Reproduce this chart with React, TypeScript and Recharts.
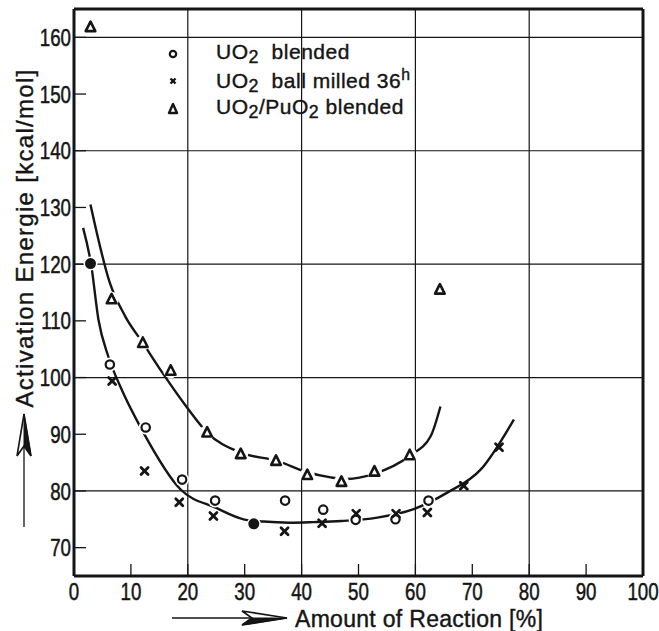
import {
  ComposedChart,
  Scatter,
  Line,
  XAxis,
  YAxis,
  CartesianGrid,
  ReferenceLine,
  Legend,
  Customized,
} from 'recharts';

// values
const blendedX = [2.9, 6.3, 12.6, 19.0, 24.8, 31.6, 37.1, 43.8, 49.5, 56.5, 62.3];
const blendedY = [120.1, 102.3, 91.2, 82.0, 78.3, 74.2, 78.3, 76.7, 74.9, 75.0, 78.3];
const blendedFilled = [true, false, false, false, false, true, false, false, false, false, false];

const milledX = [6.7, 12.4, 18.5, 24.5, 37.0, 43.6, 49.6, 56.6, 62.1, 68.5, 74.7];
const milledY = [99.4, 83.5, 78.0, 75.6, 72.9, 74.3, 76.0, 76.0, 76.2, 80.9, 87.7];

const puX = [2.9, 6.6, 12.1, 17.0, 23.4, 29.3, 35.5, 41.0, 47.0, 52.8, 59.0, 64.3];
const puY = [161.8, 113.8, 106.1, 101.2, 90.3, 86.5, 85.3, 82.8, 81.6, 83.4, 86.3, 115.5];

// hand drawn fit curves
const lowerCurveX = [1.6, 3.0, 4.3, 6.0, 8.1, 12.2, 18.7, 25.0, 29.8, 33.3, 38.0, 42.1, 47.0, 53.3, 59.7, 65.6, 71.5, 77.3];
const lowerCurveY = [126.4, 120.0, 110.2, 103.8, 98.5, 90.3, 80.3, 77.0, 75.0, 74.6, 74.4, 74.5, 74.7, 75.3, 76.8, 79.7, 83.8, 92.6];

const upperCurveX = [2.9, 6.3, 9.0, 12.1, 15.5, 19.8, 23.4, 29.2, 35.7, 41.0, 45.1, 48.0, 52.7, 59.0, 62.7, 64.4];
const upperCurveY = [130.5, 116.7, 110.8, 106.1, 100.9, 94.8, 90.3, 86.8, 85.3, 83.3, 82.4, 82.1, 83.0, 86.2, 89.7, 94.9];

const xTicks = [0, 10, 20, 30, 40, 50, 60, 70, 80, 90, 100];
const yTicks = [70, 80, 90, 100, 110, 120, 130, 140, 150, 160];
const xGrid = [20, 40, 60, 80];
const yGrid = [80, 100, 120, 140, 160];

const legendItems = [
  { key: 'blended', label: 'blended' },
  { key: 'milled', label: 'ball milled 36' },
  { key: 'pu', label: 'blended' },
];

const zip = (xs: number[], ys: number[]) => xs.map((x, i) => ({ x, y: ys[i] }));

const blendedData = blendedX.map((x, i) => ({ x, y: blendedY[i], filled: blendedFilled[i] }));
const milledData = zip(milledX, milledY);
const puData = zip(puX, puY);
const lowerCurve = zip(lowerCurveX, lowerCurveY);
const upperCurve = zip(upperCurveX, upperCurveY);

const INK = '#151515';
const FONT = '"Liberation Sans", Arial, sans-serif';

// narrow, tall digits like the original lettering
const XTick = (props: any) => {
  const { x, y, payload } = props;
  return (
    <text
      transform={`translate(${x} ${y}) scale(0.78 1)`}
      dy="0.71em"
      textAnchor="middle"
      fill={INK}
      stroke={INK}
      strokeWidth={0.5}
      style={{ fontFamily: FONT, fontSize: 24 }}
    >
      {payload.value}
    </text>
  );
};

const YTick = (props: any) => {
  const { x, y, payload } = props;
  return (
    <text
      transform={`translate(${x} ${y}) scale(0.78 1)`}
      dy="0.36em"
      textAnchor="end"
      fill={INK}
      stroke={INK}
      strokeWidth={0.5}
      style={{ fontFamily: FONT, fontSize: 24 }}
    >
      {payload.value}
    </text>
  );
};

const CircleMark = (props: any) => {
  const { cx, cy, payload } = props;
  return (
    <g>
      <circle cx={cx} cy={cy} r={7} fill="#fff" />
      {payload.filled ? (
        <circle cx={cx} cy={cy} r={5.5} fill={INK} />
      ) : (
        <circle cx={cx} cy={cy} r={4.2} fill="none" stroke={INK} strokeWidth={2.2} />
      )}
    </g>
  );
};

const CrossMark = (props: any) => {
  const { cx, cy } = props;
  const d = 3.5;
  return (
    <g stroke={INK} strokeWidth={2.8} strokeLinecap="round">
      <line x1={cx - d} y1={cy - d} x2={cx + d} y2={cy + d} />
      <line x1={cx - d} y1={cy + d} x2={cx + d} y2={cy - d} />
    </g>
  );
};

const TriMark = (props: any) => {
  const { cx, cy } = props;
  return (
    <g>
      <circle cx={cx} cy={cy} r={7.5} fill="#fff" />
      <polygon
        points={`${cx},${cy - 5.5} ${cx - 4.8},${cy + 4} ${cx + 4.8},${cy + 4}`}
        fill="none"
        stroke={INK}
        strokeWidth={2.6}
        strokeLinejoin="round"
      />
    </g>
  );
};

const legendMarker = (key: string) => {
  if (key === 'blended') return <circle cx={10} cy={13} r={3.2} fill="none" stroke={INK} strokeWidth={2.2} />;
  if (key === 'milled')
    return (
      <g stroke={INK} strokeWidth={2.4}>
        <line x1={7.5} y1={10.5} x2={12.5} y2={15.5} />
        <line x1={7.5} y1={15.5} x2={12.5} y2={10.5} />
      </g>
    );
  return <polygon points="10,8 6,17 14,17" fill="none" stroke={INK} strokeWidth={2.4} strokeLinejoin="round" />;
};

const sub = { fontSize: '0.85em', verticalAlign: '-0.22em' };

const LegendBox = () => (
  <div style={{ fontFamily: FONT, fontSize: 21, letterSpacing: 0.5, color: INK, WebkitTextStroke: '0.4px #151515' }}>
    {legendItems.map((it) => (
      <div key={it.key} style={{ display: 'flex', alignItems: 'center', height: 27.5 }}>
        <svg width={20} height={26} style={{ marginRight: 33 }}>
          {legendMarker(it.key)}
        </svg>
        <span style={{ whiteSpace: 'pre' }}>
          UO<span style={sub}>2</span>
          {it.key === 'pu' ? (
            <>
              /PuO<span style={sub}>2</span>
              {' '}
            </>
          ) : (
            '  '
          )}
          {it.label}
          {it.key === 'milled' ? <sup style={{ fontSize: '0.75em' }}>h</sup> : null}
        </span>
      </div>
    ))}
  </div>
);

const Decorations = () => (
  <g fill="none" stroke={INK}>
    {/* y-axis arrow */}
    <line x1={24} y1={527} x2={24} y2={420} strokeWidth={1.3} />
    <polygon points="24,414 17,456 24,446 31,456" strokeWidth={1.6} fill="#fff" />
    <polygon points="24,414 24,446 31,456" fill={INK} strokeWidth={1} />
    {/* x-axis arrow */}
    <line x1={172} y1={618} x2={280} y2={618} strokeWidth={1.3} />
    <polygon points="287,618 242,611 252,618 242,625" strokeWidth={1.6} fill="#fff" />
    <polygon points="287,618 252,618 242,625" fill={INK} strokeWidth={1} />
    <text
      x={24}
      y={238}
      transform="rotate(-90 24 238)"
      textAnchor="middle"
      dominantBaseline="central"
      stroke={INK}
      strokeWidth={0.4}
      fill={INK}
      style={{ fontFamily: FONT, fontSize: 24, letterSpacing: 1.3 }}
    >
      Activation Energie [kcal/mol]
    </text>
    <text
      x={295}
      y={619}
      dominantBaseline="central"
      stroke={INK}
      strokeWidth={0.4}
      fill={INK}
      style={{ fontFamily: FONT, fontSize: 23, letterSpacing: 0.3 }}
    >
      Amount of Reaction [%]
    </text>
  </g>
);

export default function App() {
  return (
    <div style={{ position: 'absolute', left: 0, top: 0, width: 659, height: 631, background: '#fff' }}>
      <ComposedChart width={659} height={631} margin={{ top: 9, right: 16, bottom: 0, left: 0 }}>
        <CartesianGrid
          horizontalValues={yGrid}
          verticalValues={xGrid}
          stroke={INK}
          strokeWidth={1.2}
          strokeDasharray=""
        />
        <XAxis
          type="number"
          dataKey="x"
          domain={[0, 100]}
          ticks={xTicks}
          interval={0}
          allowDataOverflow
          height={55}
          axisLine={{ stroke: INK, strokeWidth: 3 }}
          tickLine={{ stroke: INK, strokeWidth: 1.3 }}
          tickSize={-12}
          tickMargin={19}
          tick={XTick}
        />
        <YAxis
          type="number"
          dataKey="y"
          domain={[65, 165]}
          ticks={yTicks}
          interval={0}
          allowDataOverflow
          width={74}
          axisLine={{ stroke: INK, strokeWidth: 3 }}
          tickLine={{ stroke: INK, strokeWidth: 1.3 }}
          tickSize={-12}
          tickMargin={15}
          tick={YTick}
        />
        <ReferenceLine y={165} stroke={INK} strokeWidth={3} ifOverflow="visible" />
        <ReferenceLine x={100} stroke={INK} strokeWidth={3} ifOverflow="visible" />
        <Line
          data={lowerCurve}
          dataKey="y"
          type="monotone"
          stroke={INK}
          strokeWidth={2.4}
          dot={false}
          activeDot={false}
          isAnimationActive={false}
          legendType="none"
        />
        <Line
          data={upperCurve}
          dataKey="y"
          type="monotone"
          stroke={INK}
          strokeWidth={2.4}
          dot={false}
          activeDot={false}
          isAnimationActive={false}
          legendType="none"
        />
        <Scatter name="UO2 blended" data={blendedData} dataKey="y" shape={CircleMark} isAnimationActive={false} />
        <Scatter name="UO2/PuO2 blended" data={puData} dataKey="y" shape={TriMark} isAnimationActive={false} />
        <Scatter name="UO2 ball milled 36h" data={milledData} dataKey="y" shape={CrossMark} isAnimationActive={false} />
        <Legend
          layout="vertical"
          align="center"
          verticalAlign="middle"
          content={LegendBox}
          wrapperStyle={{ left: 163, top: 40, width: 300, height: 84 }}
        />
        <Customized component={Decorations} />
      </ComposedChart>
    </div>
  );
}
